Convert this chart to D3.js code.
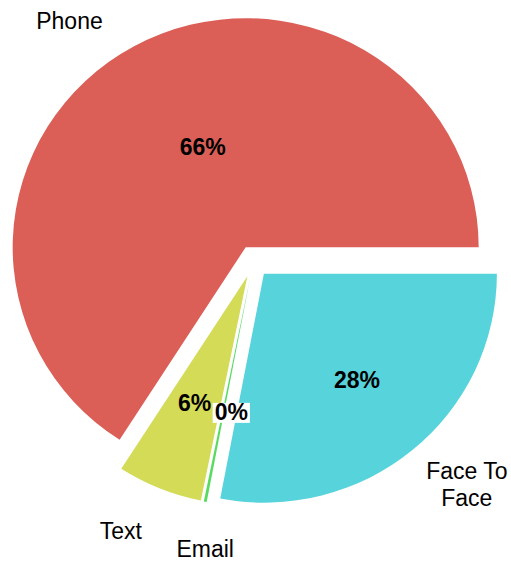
<!DOCTYPE html>
<html>
<head>
<meta charset="utf-8">
<script src="https://cdn.jsdelivr.net/npm/d3@7"></script>
<style>
  body { margin: 0; background: #fff; }
  svg { display: block; }
</style>
</head>
<body>
<div id="canvas"></div>
<script>
// ----- data -----
const categories = ["Phone", "Text", "Email", "Face To Face"];
const shares = [65.9, 5.9, 0.2, 28.0];          // percent
const colors = ["#db5f57", "#d3db57", "#57db5f", "#57d3db"];

// ----- layout -----
const width = 511, height = 561;
const cx = 253.5, cy = 261.3;
const radius = 229;
const sx = 1.0175;              // picture is a touch wider than tall
const explode = 0.07;
const pctDistance = 0.6;
const labelDistance = 1.2;
const fontFamily = "'Liberation Sans', Arial, Helvetica, sans-serif";
const fontSize = 23;

// small hand tweaks so labels sit where the original put them
const pctNudge = { Phone: [24, 20], Email: [8, 0], "Face To Face": [4, 0] };
const labelNudge = { Phone: [-9, 15], Email: [9, 2], "Face To Face": [-16, -1] };

const pct = d3.format(".0f");

const svg = d3.select("#canvas")
  .append("svg")
  .attr("width", width)
  .attr("height", height)
  .attr("viewBox", [0, 0, width, height]);

// counter clockwise from 3 o'clock
const pie = d3.pie()
  .sort(null)
  .value(d => d)
  .startAngle(Math.PI / 2)
  .endAngle(Math.PI / 2 - 2 * Math.PI);

const arcs = pie(shares);
arcs.forEach((d, i) => { d.name = categories[i]; d.color = colors[i]; });

const arc = d3.arc().innerRadius(0).outerRadius(radius);
const mid = d => (d.startAngle + d.endAngle) / 2;

// position along the bisector, measured from the exploded wedge center
function along(d, dist) {
  const m = mid(d);
  const r = explode * radius + dist;
  return [cx + sx * r * Math.sin(m), cy - r * Math.cos(m)];
}

// ----- wedges -----
const g = svg.append("g")
  .attr("transform", `translate(${cx},${cy}) scale(${sx},1)`);

g.selectAll("path")
  .data(arcs)
  .join("path")
  .attr("fill", d => d.color)
  .attr("transform", d => {
    const m = mid(d), o = explode * radius;
    return `translate(${o * Math.sin(m)},${-o * Math.cos(m)})`;
  })
  .attr("d", arc);

// ----- percent labels -----
const pctG = svg.append("g")
  .style("font-family", fontFamily)
  .style("font-size", fontSize + "px")
  .style("font-weight", "bold")
  .attr("text-anchor", "middle");

arcs.forEach(d => {
  const p = along(d, pctDistance * radius);
  const n = pctNudge[d.name] || [0, 0];
  const x = p[0] + n[0], y = p[1] + n[1];
  const t = pctG.append("text")
    .attr("x", x)
    .attr("y", y)
    .attr("dy", "0.35em")
    .attr("fill", "#000")
    .text(pct(d.data) + "%");
  if (d.data < 1) {
    // tiny slice gets a white box behind its label
    const w = t.node().getComputedTextLength();
    const base = y + 0.35 * fontSize;
    pctG.insert("rect", () => t.node())
      .attr("x", x - w / 2 - 2)
      .attr("y", base - 17)
      .attr("width", w + 4)
      .attr("height", 20)
      .attr("fill", "#fff");
  }
});

// ----- category labels -----
function wrap(s, n) {
  const lines = [];
  let line = "";
  s.split(" ").forEach(w => {
    if (line && (line + " " + w).length > n) { lines.push(line); line = w; }
    else line = line ? line + " " + w : w;
  });
  if (line) lines.push(line);
  return lines;
}

const labG = svg.append("g")
  .style("font-family", fontFamily)
  .style("font-size", fontSize + "px")
  .attr("fill", "#000");

const lineH = fontSize * 1.2;

arcs.forEach(d => {
  const m = mid(d);
  const p = along(d, labelDistance * radius);
  const n = labelNudge[d.name] || [0, 0];
  const x = p[0] + n[0], y = p[1] + n[1];
  const s = Math.sin(m);
  const anchor = Math.abs(s) < 0.25 ? "middle" : (s > 0 ? "start" : "end");
  const lines = wrap(d.name, 10);

  const t = labG.append("text").attr("text-anchor", "middle");
  const spans = lines.map((l, i) => t.append("tspan")
    .attr("y", y + (i - (lines.length - 1) / 2) * lineH)
    .attr("dy", "0.35em")
    .text(l));

  // block is anchored left/right/center, lines centered within it
  const widest = d3.max(spans, sp => sp.node().getComputedTextLength());
  const xc = anchor === "start" ? x + widest / 2 : anchor === "end" ? x - widest / 2 : x;
  spans.forEach(sp => sp.attr("x", xc));
});
</script>
</body>
</html>
